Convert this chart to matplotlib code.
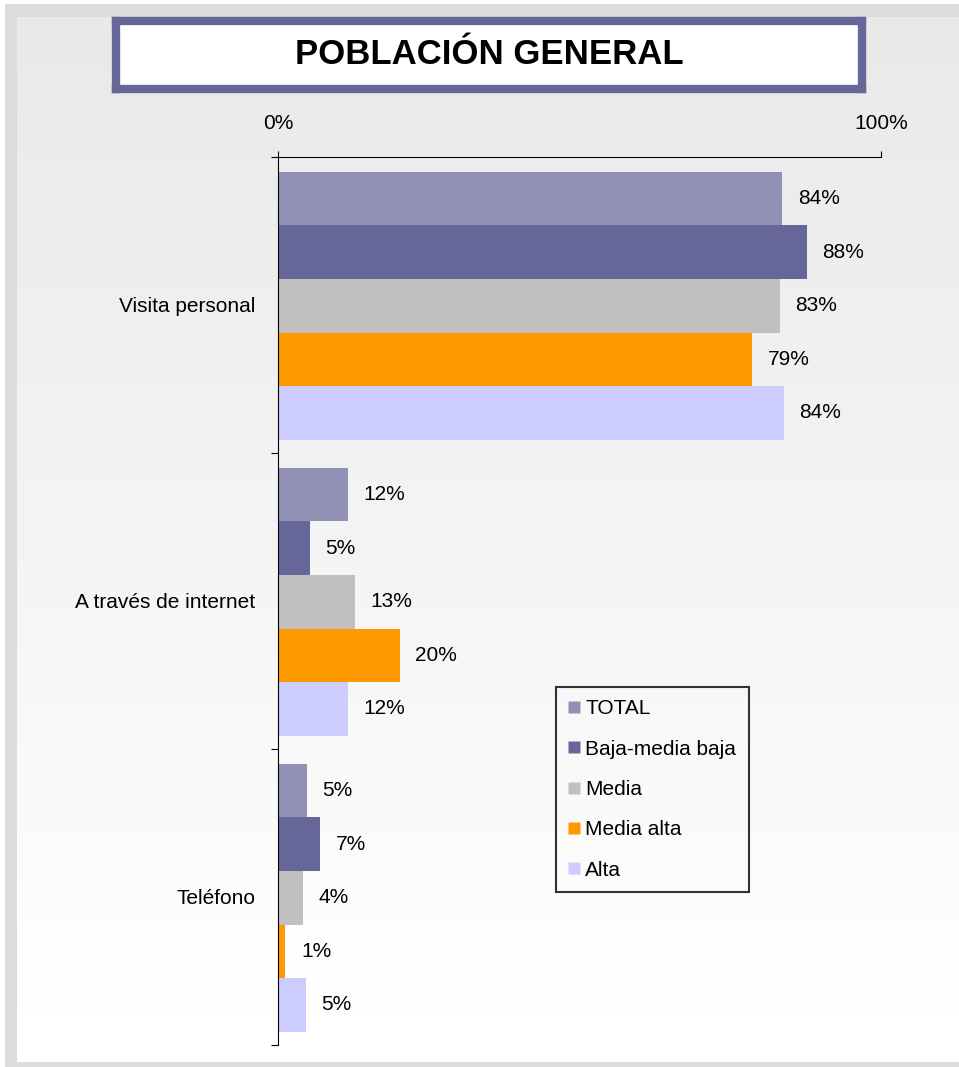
import numpy as np
import matplotlib.pyplot as plt
from matplotlib.patches import Rectangle
from matplotlib.lines import Line2D

plt.rcParams['font.family'] = ['Liberation Sans', 'DejaVu Sans']

categories = ['Visita personal', 'A través de internet', 'Teléfono']
series = ['TOTAL', 'Baja-media baja', 'Media', 'Media alta', 'Alta']
colors = ['#9191b5', '#666699', '#c0c0c0', '#ff9900', '#ccccff']
values = [
    [83.6, 87.7, 83.2, 78.6, 83.9],   # Visita personal
    [11.6, 5.3, 12.8, 20.2, 11.6],    # A través de internet
    [4.8, 7.0, 4.1, 1.2, 4.6],        # Teléfono
]
labels = [
    ['84%', '88%', '83%', '79%', '84%'],
    ['12%', '5%', '13%', '20%', '12%'],
    ['5%', '7%', '4%', '1%', '5%'],
]
title = 'POBLACIÓN GENERAL'

W, H = 959, 1067
fig = plt.figure(figsize=(W / 100, H / 100), dpi=100)

# outer frame + gradient background
fig.patches.append(Rectangle((5 / W, 0), 1 - 5 / W, 1 - 4 / H, transform=fig.transFigure,
                             facecolor='#dcdcdc', edgecolor='none', zorder=-10))
bg = fig.add_axes([17 / W, 1 - 1062 / H, 1 - 17 / W, (1062 - 17) / H], zorder=-5)
grad = np.linspace(0.91, 1.0, 256).reshape(-1, 1)
bg.imshow(grad, aspect='auto', cmap='gray', vmin=0, vmax=1, extent=[0, 1, 1, 0])
bg.axis('off')

# title box
tb = fig.add_axes([116 / W, 1 - 89 / H, (862 - 116) / W, (89 - 21) / H])
tb.set_xticks([])
tb.set_yticks([])
tb.set_facecolor('white')
for s in tb.spines.values():
    s.set_edgecolor('#666699')
    s.set_linewidth(6)
tb.text(0.5, 0.5, title, ha='center', va='center', fontsize=25, fontweight='bold',
        transform=tb.transAxes)

# main axes
ax = fig.add_axes([278 / W, 1 - 1045 / H, (881 - 278) / W, (1045 - 157) / H])
ax.patch.set_alpha(0)

n = len(series)
h = 0.181
off = 0.05
for i, cat in enumerate(categories):
    for j in range(n):
        y = i + off + h * (j + 0.5)
        ax.barh(y, values[i][j] / 100, height=h, color=colors[j], edgecolor='none')
        ax.text(values[i][j] / 100 + 0.026, y, labels[i][j], va='center', ha='left', fontsize=15)

ax.set_xlim(0, 1)
ax.set_ylim(3, 0)
ax.xaxis.tick_top()
ax.set_xticks([0, 1])
ax.set_xticklabels(['0%', '100%'], fontsize=15)
ax.tick_params(axis='x', length=4, width=0.8, pad=13, direction='out')
ax.set_yticks([0, 1, 2, 3])
ax.set_yticklabels([])
ax.set_yticks([0.5, 1.5, 2.5], minor=True)
ax.set_yticklabels(categories, minor=True, fontsize=15)
ax.tick_params(axis='y', which='major', length=5, width=0.8, direction='out')
ax.tick_params(axis='y', which='minor', length=0, pad=16.5)
for s in ['right', 'bottom']:
    ax.spines[s].set_visible(False)
for s in ['top', 'left']:
    ax.spines[s].set_linewidth(0.8)

handles = [Line2D([], [], linestyle='none', marker='s', markersize=8, markerfacecolor=c,
                  markeredgecolor='none') for c in colors]
leg = fig.legend(handles, series, loc='upper left', bbox_to_anchor=(556 / W, 1 - 687 / H),
                 fontsize=15, frameon=True, fancybox=False, edgecolor='black',
                 handlelength=0.55, handletextpad=0.25, labelspacing=1.02, borderpad=0.6,
                 borderaxespad=0)
leg.get_frame().set_linewidth(1.5)
leg.get_frame().set_facecolor('none')

fig.savefig('out.png', dpi=100)
